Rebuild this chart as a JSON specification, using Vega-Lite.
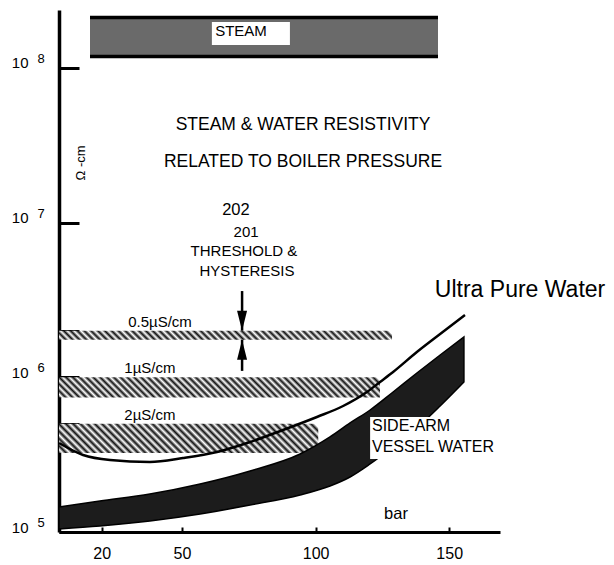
{
  "$schema": "https://vega.github.io/schema/vega-lite/v6.json",
  "width": 441,
  "height": 522,
  "autosize": {"type": "none"},
  "padding": {"left": 59, "top": 10, "right": 114, "bottom": 33},
  "background": "white",
  "config": {
    "view": {"stroke": null},
    "font": "Liberation Sans",
    "text": {"font": "Liberation Sans", "color": "black"},
    "axis": {"grid": false, "domainColor": "black", "tickColor": "black", "labelColor": "black", "labelFont": "Liberation Sans", "labelFlush": false, "labelOverlap": false},
    "axisX": {"tickSize": -5, "tickWidth": 2, "domainWidth": 3, "labelPadding": 18, "labelFontSize": 16},
    "axisY": {"tickSize": -20, "tickWidth": 3, "domainWidth": 3.5, "labelPadding": 51, "labelFontSize": 15, "labelBaseline": "alphabetic"}
  },
  "datasets": {
    "steam": [{"x0": 15.6, "x1": 145.8, "top": 212000000, "bottom": 118500000}],
    "bands": [
      {"label": "0.5µS/cm", "x0": 4, "x1": 128.6, "top": 2000000, "bottom": 1750000},
      {"label": "1µS/cm", "x0": 4, "x1": 124.1, "top": 1000000, "bottom": 740000},
      {"label": "2µS/cm", "x0": 4, "x1": 101, "top": 500000, "bottom": 324000}
    ],
    "boxes": [
      {"x0": 61.2, "x1": 90.4, "top": 198000000, "bottom": 140600000},
      {"x0": 120.4, "x1": 167, "top": 554000, "bottom": 296000}
    ],
    "sidearm": [
      {"p": 4.0, "hi": 145100, "lo": 104600},
      {"p": 19.3, "hi": 158600, "lo": 109300},
      {"p": 38.0, "hi": 176000, "lo": 117800},
      {"p": 56.8, "hi": 204300, "lo": 130700},
      {"p": 75.5, "hi": 248000, "lo": 149400},
      {"p": 94.2, "hi": 319300, "lo": 173500},
      {"p": 105.4, "hi": 411300, "lo": 198300},
      {"p": 112.9, "hi": 506600, "lo": 226700},
      {"p": 120.4, "hi": 614700, "lo": 275200},
      {"p": 129.0, "hi": 803500, "lo": 354300},
      {"p": 137.9, "hi": 1066000, "lo": 470200},
      {"p": 146.6, "hi": 1394000, "lo": 652400},
      {"p": 155.5, "hi": 1822000, "lo": 932400}
    ],
    "upw": [
      {"p": 4.0, "r": 376000},
      {"p": 13.0, "r": 314600},
      {"p": 23.1, "r": 292000},
      {"p": 38.0, "r": 283500},
      {"p": 50.4, "r": 300800},
      {"p": 63.1, "r": 328900},
      {"p": 75.5, "r": 381800},
      {"p": 87.8, "r": 456300},
      {"p": 100.5, "r": 554000},
      {"p": 110.3, "r": 652400},
      {"p": 119.2, "r": 803500},
      {"p": 124.1, "r": 932400},
      {"p": 129.0, "r": 1082000},
      {"p": 137.9, "r": 1457000},
      {"p": 146.6, "r": 1905000},
      {"p": 155.9, "r": 2527000}
    ],
    "shafts": [
      {"p": 72.5, "from": 3610000, "to": 2000000},
      {"p": 72.5, "from": 1100000, "to": 1750000}
    ],
    "heads": [
      {"p": 72.5, "r": 2000000, "dir": "down"},
      {"p": 72.5, "r": 1750000, "dir": "up"}
    ],
    "texts": [
      {"g": "title", "t": "STEAM & WATER RESISTIVITY", "p": 95.3, "r": 42800000},
      {"g": "title", "t": "RELATED TO BOILER PRESSURE", "p": 95.3, "r": 24800000},
      {"g": "n15", "t": "STEAM", "p": 72.1, "r": 172000000},
      {"g": "n15", "t": "201", "p": 74.0, "r": 8700000},
      {"g": "n15", "t": "THRESHOLD &", "p": 73.2, "r": 6550000},
      {"g": "n15", "t": "HYSTERESIS", "p": 74.3, "r": 4870000},
      {"g": "n15", "t": "0.5µS/cm", "p": 41.8, "r": 2280000},
      {"g": "n15", "t": "1µS/cm", "p": 38.0, "r": 1150000},
      {"g": "n15", "t": "2µS/cm", "p": 38.0, "r": 570000},
      {"g": "n16", "t": "202", "p": 70.2, "r": 12000000},
      {"g": "n16", "t": "bar", "p": 130.1, "r": 130700},
      {"g": "side", "t": "SIDE-ARM", "p": 121.1, "r": 481000},
      {"g": "side", "t": "VESSEL WATER", "p": 121.1, "r": 354300},
      {"g": "big", "t": "Ultra Pure Water", "p": 176.5, "r": 3670000},
      {"g": "unit", "t": "Ω -cm", "p": 12.2, "r": 24300000}
    ],
    "exps": [
      {"r": 100000000, "e": "8"},
      {"r": 10000000, "e": "7"},
      {"r": 1000000, "e": "6"},
      {"r": 100000, "e": "5"}
    ]
  },
  "layer": [
    {
      "data": {"name": "steam"},
      "mark": {"type": "rect", "fill": "#6a6a6a"},
      "encoding": {
        "x": {
          "field": "x0", "type": "quantitative", "title": null,
          "scale": {"domain": [4, 169], "nice": false, "zero": false},
          "axis": {"values": [20, 50, 100, 150], "title": null}
        },
        "x2": {"field": "x1"},
        "y": {
          "field": "top", "type": "quantitative", "title": null,
          "scale": {"type": "log", "domain": [100000, 236700000], "nice": false},
          "axis": {
            "values": [100000, 500000, 1000000, 2000000, 10000000, 100000000],
            "labelExpr": "datum.value == 100000 || datum.value == 1000000 || datum.value == 10000000 || datum.value == 100000000 ? '10' : ''",
            "title": null
          }
        },
        "y2": {"field": "bottom"}
      }
    },
    {
      "data": {"name": "steam"},
      "mark": {"type": "rule", "color": "black", "strokeWidth": 3.5},
      "encoding": {
        "x": {"field": "x0", "type": "quantitative", "title": null},
        "x2": {"field": "x1"},
        "y": {"field": "top", "type": "quantitative", "title": null}
      }
    },
    {
      "data": {"name": "steam"},
      "mark": {"type": "rule", "color": "black", "strokeWidth": 3.5},
      "encoding": {
        "x": {"field": "x0", "type": "quantitative", "title": null},
        "x2": {"field": "x1"},
        "y": {"field": "bottom", "type": "quantitative", "title": null}
      }
    },
    {
      "data": {"name": "bands"},
      "transform": [{"filter": "datum.label == '0.5µS/cm'"}],
      "mark": {"type": "rect", "fill": {"gradient": "linear", "x1": 0, "y1": 1, "x2": 1.0263, "y2": 0.9723, "stops": [
        {"offset":0,"color":"#111"},{"offset":0.01,"color":"#fff"},{"offset":0.02,"color":"#111"},{"offset":0.03,"color":"#fff"},{"offset":0.04,"color":"#111"},{"offset":0.05,"color":"#fff"},{"offset":0.06,"color":"#111"},{"offset":0.07,"color":"#fff"},{"offset":0.08,"color":"#111"},{"offset":0.09,"color":"#fff"},
        {"offset":0.1,"color":"#111"},{"offset":0.11,"color":"#fff"},{"offset":0.12,"color":"#111"},{"offset":0.13,"color":"#fff"},{"offset":0.14,"color":"#111"},{"offset":0.15,"color":"#fff"},{"offset":0.16,"color":"#111"},{"offset":0.17,"color":"#fff"},{"offset":0.18,"color":"#111"},{"offset":0.19,"color":"#fff"},
        {"offset":0.2,"color":"#111"},{"offset":0.21,"color":"#fff"},{"offset":0.22,"color":"#111"},{"offset":0.23,"color":"#fff"},{"offset":0.24,"color":"#111"},{"offset":0.25,"color":"#fff"},{"offset":0.26,"color":"#111"},{"offset":0.27,"color":"#fff"},{"offset":0.28,"color":"#111"},{"offset":0.29,"color":"#fff"},
        {"offset":0.3,"color":"#111"},{"offset":0.31,"color":"#fff"},{"offset":0.32,"color":"#111"},{"offset":0.33,"color":"#fff"},{"offset":0.34,"color":"#111"},{"offset":0.35,"color":"#fff"},{"offset":0.36,"color":"#111"},{"offset":0.37,"color":"#fff"},{"offset":0.38,"color":"#111"},{"offset":0.39,"color":"#fff"},
        {"offset":0.4,"color":"#111"},{"offset":0.41,"color":"#fff"},{"offset":0.42,"color":"#111"},{"offset":0.43,"color":"#fff"},{"offset":0.44,"color":"#111"},{"offset":0.45,"color":"#fff"},{"offset":0.46,"color":"#111"},{"offset":0.47,"color":"#fff"},{"offset":0.48,"color":"#111"},{"offset":0.49,"color":"#fff"},
        {"offset":0.5,"color":"#111"},{"offset":0.51,"color":"#fff"},{"offset":0.52,"color":"#111"},{"offset":0.53,"color":"#fff"},{"offset":0.54,"color":"#111"},{"offset":0.55,"color":"#fff"},{"offset":0.56,"color":"#111"},{"offset":0.57,"color":"#fff"},{"offset":0.58,"color":"#111"},{"offset":0.59,"color":"#fff"},
        {"offset":0.6,"color":"#111"},{"offset":0.61,"color":"#fff"},{"offset":0.62,"color":"#111"},{"offset":0.63,"color":"#fff"},{"offset":0.64,"color":"#111"},{"offset":0.65,"color":"#fff"},{"offset":0.66,"color":"#111"},{"offset":0.67,"color":"#fff"},{"offset":0.68,"color":"#111"},{"offset":0.69,"color":"#fff"},
        {"offset":0.7,"color":"#111"},{"offset":0.71,"color":"#fff"},{"offset":0.72,"color":"#111"},{"offset":0.73,"color":"#fff"},{"offset":0.74,"color":"#111"},{"offset":0.75,"color":"#fff"},{"offset":0.76,"color":"#111"},{"offset":0.77,"color":"#fff"},{"offset":0.78,"color":"#111"},{"offset":0.79,"color":"#fff"},
        {"offset":0.8,"color":"#111"},{"offset":0.81,"color":"#fff"},{"offset":0.82,"color":"#111"},{"offset":0.83,"color":"#fff"},{"offset":0.84,"color":"#111"},{"offset":0.85,"color":"#fff"},{"offset":0.86,"color":"#111"},{"offset":0.87,"color":"#fff"},{"offset":0.88,"color":"#111"},{"offset":0.89,"color":"#fff"},
        {"offset":0.9,"color":"#111"},{"offset":0.91,"color":"#fff"},{"offset":0.92,"color":"#111"},{"offset":0.93,"color":"#fff"},{"offset":0.94,"color":"#111"},{"offset":0.95,"color":"#fff"},{"offset":0.96,"color":"#111"},{"offset":0.97,"color":"#fff"},{"offset":0.98,"color":"#111"},{"offset":0.99,"color":"#fff"},
        {"offset":1,"color":"#fff"}
      ]}},
      "encoding": {
        "x": {"field": "x0", "type": "quantitative", "title": null},
        "x2": {"field": "x1"},
        "y": {"field": "top", "type": "quantitative", "title": null},
        "y2": {"field": "bottom"}
      }
    },
    {
      "data": {"name": "bands"},
      "transform": [{"filter": "datum.label == '1µS/cm'"}],
      "mark": {"type": "rect", "fill": {"gradient": "linear", "x1": 0, "y1": 1, "x2": 1.0588, "y2": 0.9333, "stops": [
        {"offset":0,"color":"#111"},{"offset":0.01,"color":"#fff"},{"offset":0.02,"color":"#111"},{"offset":0.03,"color":"#fff"},{"offset":0.04,"color":"#111"},{"offset":0.05,"color":"#fff"},{"offset":0.06,"color":"#111"},{"offset":0.07,"color":"#fff"},{"offset":0.08,"color":"#111"},{"offset":0.09,"color":"#fff"},
        {"offset":0.1,"color":"#111"},{"offset":0.11,"color":"#fff"},{"offset":0.12,"color":"#111"},{"offset":0.13,"color":"#fff"},{"offset":0.14,"color":"#111"},{"offset":0.15,"color":"#fff"},{"offset":0.16,"color":"#111"},{"offset":0.17,"color":"#fff"},{"offset":0.18,"color":"#111"},{"offset":0.19,"color":"#fff"},
        {"offset":0.2,"color":"#111"},{"offset":0.21,"color":"#fff"},{"offset":0.22,"color":"#111"},{"offset":0.23,"color":"#fff"},{"offset":0.24,"color":"#111"},{"offset":0.25,"color":"#fff"},{"offset":0.26,"color":"#111"},{"offset":0.27,"color":"#fff"},{"offset":0.28,"color":"#111"},{"offset":0.29,"color":"#fff"},
        {"offset":0.3,"color":"#111"},{"offset":0.31,"color":"#fff"},{"offset":0.32,"color":"#111"},{"offset":0.33,"color":"#fff"},{"offset":0.34,"color":"#111"},{"offset":0.35,"color":"#fff"},{"offset":0.36,"color":"#111"},{"offset":0.37,"color":"#fff"},{"offset":0.38,"color":"#111"},{"offset":0.39,"color":"#fff"},
        {"offset":0.4,"color":"#111"},{"offset":0.41,"color":"#fff"},{"offset":0.42,"color":"#111"},{"offset":0.43,"color":"#fff"},{"offset":0.44,"color":"#111"},{"offset":0.45,"color":"#fff"},{"offset":0.46,"color":"#111"},{"offset":0.47,"color":"#fff"},{"offset":0.48,"color":"#111"},{"offset":0.49,"color":"#fff"},
        {"offset":0.5,"color":"#111"},{"offset":0.51,"color":"#fff"},{"offset":0.52,"color":"#111"},{"offset":0.53,"color":"#fff"},{"offset":0.54,"color":"#111"},{"offset":0.55,"color":"#fff"},{"offset":0.56,"color":"#111"},{"offset":0.57,"color":"#fff"},{"offset":0.58,"color":"#111"},{"offset":0.59,"color":"#fff"},
        {"offset":0.6,"color":"#111"},{"offset":0.61,"color":"#fff"},{"offset":0.62,"color":"#111"},{"offset":0.63,"color":"#fff"},{"offset":0.64,"color":"#111"},{"offset":0.65,"color":"#fff"},{"offset":0.66,"color":"#111"},{"offset":0.67,"color":"#fff"},{"offset":0.68,"color":"#111"},{"offset":0.69,"color":"#fff"},
        {"offset":0.7,"color":"#111"},{"offset":0.71,"color":"#fff"},{"offset":0.72,"color":"#111"},{"offset":0.73,"color":"#fff"},{"offset":0.74,"color":"#111"},{"offset":0.75,"color":"#fff"},{"offset":0.76,"color":"#111"},{"offset":0.77,"color":"#fff"},{"offset":0.78,"color":"#111"},{"offset":0.79,"color":"#fff"},
        {"offset":0.8,"color":"#111"},{"offset":0.81,"color":"#fff"},{"offset":0.82,"color":"#111"},{"offset":0.83,"color":"#fff"},{"offset":0.84,"color":"#111"},{"offset":0.85,"color":"#fff"},{"offset":0.86,"color":"#111"},{"offset":0.87,"color":"#fff"},{"offset":0.88,"color":"#111"},{"offset":0.89,"color":"#fff"},
        {"offset":0.9,"color":"#111"},{"offset":0.91,"color":"#fff"},{"offset":0.92,"color":"#111"},{"offset":0.93,"color":"#fff"},{"offset":0.94,"color":"#111"},{"offset":0.95,"color":"#fff"},{"offset":0.96,"color":"#111"},{"offset":0.97,"color":"#fff"},{"offset":0.98,"color":"#111"},{"offset":0.99,"color":"#fff"},
        {"offset":1,"color":"#fff"}
      ]}},
      "encoding": {
        "x": {"field": "x0", "type": "quantitative", "title": null},
        "x2": {"field": "x1"},
        "y": {"field": "top", "type": "quantitative", "title": null},
        "y2": {"field": "bottom"}
      }
    },
    {
      "data": {"name": "bands"},
      "transform": [{"filter": "datum.label == '2µS/cm'"}],
      "mark": {"type": "rect", "fill": {"gradient": "linear", "x1": 0, "y1": 1, "x2": 1.0982, "y2": 0.877, "stops": [
        {"offset":0,"color":"#111"},{"offset":0.0125,"color":"#fff"},{"offset":0.025,"color":"#111"},{"offset":0.0375,"color":"#fff"},{"offset":0.05,"color":"#111"},{"offset":0.0625,"color":"#fff"},{"offset":0.075,"color":"#111"},{"offset":0.0875,"color":"#fff"},
        {"offset":0.1,"color":"#111"},{"offset":0.1125,"color":"#fff"},{"offset":0.125,"color":"#111"},{"offset":0.1375,"color":"#fff"},{"offset":0.15,"color":"#111"},{"offset":0.1625,"color":"#fff"},{"offset":0.175,"color":"#111"},{"offset":0.1875,"color":"#fff"},
        {"offset":0.2,"color":"#111"},{"offset":0.2125,"color":"#fff"},{"offset":0.225,"color":"#111"},{"offset":0.2375,"color":"#fff"},{"offset":0.25,"color":"#111"},{"offset":0.2625,"color":"#fff"},{"offset":0.275,"color":"#111"},{"offset":0.2875,"color":"#fff"},
        {"offset":0.3,"color":"#111"},{"offset":0.3125,"color":"#fff"},{"offset":0.325,"color":"#111"},{"offset":0.3375,"color":"#fff"},{"offset":0.35,"color":"#111"},{"offset":0.3625,"color":"#fff"},{"offset":0.375,"color":"#111"},{"offset":0.3875,"color":"#fff"},
        {"offset":0.4,"color":"#111"},{"offset":0.4125,"color":"#fff"},{"offset":0.425,"color":"#111"},{"offset":0.4375,"color":"#fff"},{"offset":0.45,"color":"#111"},{"offset":0.4625,"color":"#fff"},{"offset":0.475,"color":"#111"},{"offset":0.4875,"color":"#fff"},
        {"offset":0.5,"color":"#111"},{"offset":0.5125,"color":"#fff"},{"offset":0.525,"color":"#111"},{"offset":0.5375,"color":"#fff"},{"offset":0.55,"color":"#111"},{"offset":0.5625,"color":"#fff"},{"offset":0.575,"color":"#111"},{"offset":0.5875,"color":"#fff"},
        {"offset":0.6,"color":"#111"},{"offset":0.6125,"color":"#fff"},{"offset":0.625,"color":"#111"},{"offset":0.6375,"color":"#fff"},{"offset":0.65,"color":"#111"},{"offset":0.6625,"color":"#fff"},{"offset":0.675,"color":"#111"},{"offset":0.6875,"color":"#fff"},
        {"offset":0.7,"color":"#111"},{"offset":0.7125,"color":"#fff"},{"offset":0.725,"color":"#111"},{"offset":0.7375,"color":"#fff"},{"offset":0.75,"color":"#111"},{"offset":0.7625,"color":"#fff"},{"offset":0.775,"color":"#111"},{"offset":0.7875,"color":"#fff"},
        {"offset":0.8,"color":"#111"},{"offset":0.8125,"color":"#fff"},{"offset":0.825,"color":"#111"},{"offset":0.8375,"color":"#fff"},{"offset":0.85,"color":"#111"},{"offset":0.8625,"color":"#fff"},{"offset":0.875,"color":"#111"},{"offset":0.8875,"color":"#fff"},
        {"offset":0.9,"color":"#111"},{"offset":0.9125,"color":"#fff"},{"offset":0.925,"color":"#111"},{"offset":0.9375,"color":"#fff"},{"offset":0.95,"color":"#111"},{"offset":0.9625,"color":"#fff"},{"offset":0.975,"color":"#111"},{"offset":0.9875,"color":"#fff"},
        {"offset":1,"color":"#fff"}
      ]}},
      "encoding": {
        "x": {"field": "x0", "type": "quantitative", "title": null},
        "x2": {"field": "x1"},
        "y": {"field": "top", "type": "quantitative", "title": null},
        "y2": {"field": "bottom"}
      }
    },
    {
      "data": {"name": "sidearm"},
      "mark": {"type": "area", "interpolate": "monotone", "fill": "#1c1c1c", "stroke": "black", "strokeWidth": 1.5},
      "encoding": {
        "x": {"field": "p", "type": "quantitative", "title": null},
        "y": {"field": "hi", "type": "quantitative", "title": null},
        "y2": {"field": "lo"}
      }
    },
    {
      "data": {"name": "boxes"},
      "mark": {"type": "rect", "fill": "white"},
      "encoding": {
        "x": {"field": "x0", "type": "quantitative", "title": null},
        "x2": {"field": "x1"},
        "y": {"field": "top", "type": "quantitative", "title": null},
        "y2": {"field": "bottom"}
      }
    },
    {
      "data": {"name": "upw"},
      "mark": {"type": "line", "interpolate": "monotone", "color": "black", "strokeWidth": 2.5},
      "encoding": {
        "x": {"field": "p", "type": "quantitative", "title": null},
        "y": {"field": "r", "type": "quantitative", "title": null}
      }
    },
    {
      "data": {"name": "shafts"},
      "mark": {"type": "rule", "color": "black", "strokeWidth": 2.5},
      "encoding": {
        "x": {"field": "p", "type": "quantitative", "title": null},
        "y": {"field": "from", "type": "quantitative", "title": null},
        "y2": {"field": "to"}
      }
    },
    {
      "data": {"name": "heads"},
      "mark": {"type": "point", "filled": true, "size": 400, "color": "black", "opacity": 1, "strokeWidth": 0},
      "encoding": {
        "x": {"field": "p", "type": "quantitative", "title": null},
        "y": {"field": "r", "type": "quantitative", "title": null},
        "shape": {
          "field": "dir", "type": "nominal", "legend": null,
          "scale": {"domain": ["down", "up"], "range": ["M-0.5,-2L0.5,-2L0,0Z", "M-0.5,2L0.5,2L0,0Z"]}
        }
      }
    },
    {
      "data": {"name": "texts"},
      "transform": [{"filter": "datum.g == 'title'"}],
      "mark": {"type": "text", "fontSize": 17.5, "align": "center", "baseline": "middle"},
      "encoding": {
        "x": {"field": "p", "type": "quantitative", "title": null},
        "y": {"field": "r", "type": "quantitative", "title": null},
        "text": {"field": "t"}
      }
    },
    {
      "data": {"name": "texts"},
      "transform": [{"filter": "datum.g == 'n15'"}],
      "mark": {"type": "text", "fontSize": 15, "align": "center", "baseline": "middle"},
      "encoding": {
        "x": {"field": "p", "type": "quantitative", "title": null},
        "y": {"field": "r", "type": "quantitative", "title": null},
        "text": {"field": "t"}
      }
    },
    {
      "data": {"name": "texts"},
      "transform": [{"filter": "datum.g == 'n16'"}],
      "mark": {"type": "text", "fontSize": 16.5, "align": "center", "baseline": "middle"},
      "encoding": {
        "x": {"field": "p", "type": "quantitative", "title": null},
        "y": {"field": "r", "type": "quantitative", "title": null},
        "text": {"field": "t"}
      }
    },
    {
      "data": {"name": "texts"},
      "transform": [{"filter": "datum.g == 'side'"}],
      "mark": {"type": "text", "fontSize": 16, "align": "left", "baseline": "middle"},
      "encoding": {
        "x": {"field": "p", "type": "quantitative", "title": null},
        "y": {"field": "r", "type": "quantitative", "title": null},
        "text": {"field": "t"}
      }
    },
    {
      "data": {"name": "texts"},
      "transform": [{"filter": "datum.g == 'big'"}],
      "mark": {"type": "text", "fontSize": 23, "align": "center", "baseline": "middle"},
      "encoding": {
        "x": {"field": "p", "type": "quantitative", "title": null},
        "y": {"field": "r", "type": "quantitative", "title": null},
        "text": {"field": "t"}
      }
    },
    {
      "data": {"name": "texts"},
      "transform": [{"filter": "datum.g == 'unit'"}],
      "mark": {"type": "text", "fontSize": 13, "align": "center", "baseline": "middle", "angle": 270},
      "encoding": {
        "x": {"field": "p", "type": "quantitative", "title": null},
        "y": {"field": "r", "type": "quantitative", "title": null},
        "text": {"field": "t"}
      }
    },
    {
      "data": {"name": "exps"},
      "mark": {"type": "text", "fontSize": 13, "align": "center", "baseline": "middle", "dx": -18, "dy": -9},
      "encoding": {
        "x": {"datum": 4, "type": "quantitative", "title": null},
        "y": {"field": "r", "type": "quantitative", "title": null},
        "text": {"field": "e"}
      }
    }
  ]
}
